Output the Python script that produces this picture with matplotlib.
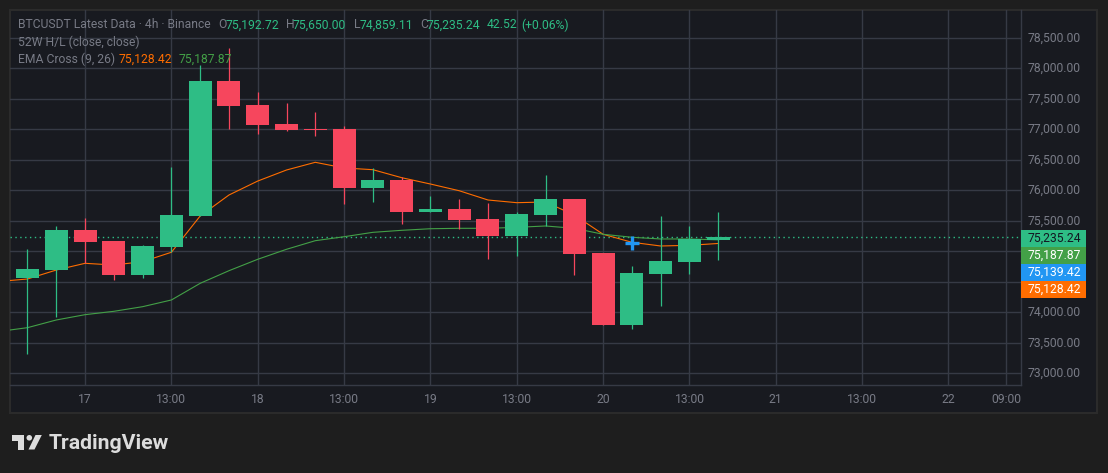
import matplotlib.pyplot as plt
from matplotlib.patches import Rectangle, Polygon, Circle
from matplotlib.transforms import ScaledTranslation

plt.rcParams['font.family'] = ['Roboto', 'DejaVu Sans']

# candles, 4h bars
opens = [74567, 74698, 75349, 75169, 74616, 75075, 75580, 77792, 77398, 77087, 77000, 77005, 76038,
         76169, 75644, 75693, 75530, 75251, 75595, 75857, 74972, 73792, 74628, 74825, 75192.72]
highs = [75038, 75415, 75546, 75169, 75103, 76382, 78054, 78328, 77611, 77431, 77284, 77054, 76366,
         76218, 75907, 75857, 75792, 75644, 76251, 75857, 74972, 74759, 75579, 75415, 75650.00]
lows = [73321, 73928, 74808, 74534, 74567, 74989, 75580, 77005, 76928, 76972, 76890, 75775, 75808,
        75448, 75644, 75366, 74874, 74923, 75415, 74611, 73792, 73731, 74103, 74628, 74859.11]
closes = [74710, 75349, 75158, 74616, 75087, 75595, 77792, 77382, 77070, 76989, 76985, 76038, 76169,
          75644, 75693, 75513, 75251, 75611, 75857, 74961, 73792, 74644, 74841, 75197, 75235.24]

# EMA lines start one bar before the first candle
ema_x = list(range(-1, 25))
ema9 = [74505, 74546, 74693, 74803, 74775, 74830, 74984, 75579, 75923, 76152, 76333, 76459, 76366,
        76338, 76207, 76103, 75993, 75841, 75797, 75808, 75595, 75279, 75148, 75087, 75098, 75128.42]
ema26 = [73685, 73748, 73874, 73961, 74016, 74092, 74202, 74475, 74682, 74869, 75033, 75174, 75239,
         75311, 75344, 75370, 75377, 75377, 75393, 75415, 75377, 75279, 75230, 75202, 75202, 75187.87]

last_price = 75235.24
cross_x = 21
cross_price = 75139.42

price_ticks = [73000, 73500, 74000, 74500, 75000, 75500, 76000, 76500, 77000, 77500, 78000, 78500]
# 74,500 and 75,000 are covered by the price tags, so no label there
hidden_prices = [74500, 75000]
time_ticks = [2, 5, 8, 11, 14, 17, 20, 23, 26, 29, 32, 34]
time_labels = ['17', '13:00', '18', '13:00', '19', '13:00', '20', '13:00', '21', '13:00', '22', '09:00']

tags = ['75,235.24', '75,187.87', '75,139.42', '75,128.42']
tag_colors = ['#2ebd85', '#43a047', '#2196f3', '#ff6d00']
tag_text_colors = ['#131722', 'white', 'white', 'white']

UP = '#2ebd85'
DOWN = '#f6465d'
GRID = '#363a45'
GRAY = '#787b86'
W, H = 1108, 473

fig = plt.figure(figsize=(W / 100, H / 100), dpi=100, facecolor='#1e1e1e')

# background layer, pixel coordinates
bg = fig.add_axes([0, 0, 1, 1], zorder=0)
bg.set_xlim(0, W)
bg.set_ylim(H, 0)
bg.axis('off')
bg.add_patch(Rectangle((9.5, 10), 1087.5, 402.5, facecolor='#181a20', edgecolor='#2b2b2b', linewidth=1.5))

# price chart
ax = fig.add_axes([10 / W, 1 - 385 / H, 1011 / W, 375 / H], zorder=1)
ax.patch.set_alpha(0)
ax.set_xlim(-0.608, 34.52)
ax.set_ylim(72808, 78956)

ax.grid(True, color=GRID, linewidth=1)
ax.set_axisbelow(True)
ax.set_yticks(price_ticks)
ax.set_yticklabels(['' if p in hidden_prices else f'{p:,.2f}' for p in price_ticks])
ax.yaxis.tick_right()
ax.set_xticks(time_ticks)
ax.set_xticklabels(time_labels)
ax.tick_params(axis='both', length=0, labelsize=8.7, labelcolor=GRAY)
ax.tick_params(axis='x', pad=6)
ax.tick_params(axis='y', pad=4.5)
# price labels sit a little above their grid line
for label in ax.get_yticklabels():
    label.set_transform(label.get_transform() + ScaledTranslation(0, 1.5 / 100, fig.dpi_scale_trans))
for side in ['left', 'top']:
    ax.spines[side].set_visible(False)
for side in ['right', 'bottom']:
    ax.spines[side].set_color(GRID)
    ax.spines[side].set_linewidth(1)

ax.axhline(last_price, color=UP, linestyle=(0, (1, 2.5)), linewidth=1, zorder=1.5)
ax.plot(ema_x, ema9, color='#ff6d00', linewidth=0.8, zorder=2)
ax.plot(ema_x, ema26, color='#43a047', linewidth=0.8, zorder=2)

for i in range(len(opens)):
    color = UP if closes[i] >= opens[i] else DOWN
    ax.vlines(i, lows[i], highs[i], color=color, linewidth=0.9, zorder=3)
    ax.bar(i, abs(closes[i] - opens[i]), bottom=min(opens[i], closes[i]), width=0.8, color=color, zorder=4)

ax.plot([cross_x], [cross_price], marker='+', markersize=9.5, markeredgewidth=2.4, color='#2196f3', zorder=5)

# overlay for legend text, price tags and logo
ov = fig.add_axes([0, 0, 1, 1], zorder=2)
ov.set_xlim(0, W)
ov.set_ylim(H, 0)
ov.axis('off')

FS = 8.7
legend_line1 = [(18, 'BTCUSDT Latest Data · 4h · Binance', GRAY), (218, 'O', GRAY), (226, '75,192.72', UP),
                (286, 'H', GRAY), (293, '75,650.00', UP), (354, 'L', GRAY), (360, '74,859.11', UP),
                (420, 'C', GRAY), (427, '75,235.24', UP), (487, '42.52', UP), (521, '(+0.06%)', UP)]
for x, s, c in legend_line1:
    ov.text(x, 25, s, color=c, fontsize=FS, va='center')
ov.text(18, 42, '52W H/L (close, close)', color=GRAY, fontsize=FS, va='center')
ov.text(18, 59, 'EMA Cross (9, 26)', color=GRAY, fontsize=FS, va='center')
ov.text(118.5, 59, '75,128.42', color='#ff6d00', fontsize=FS, va='center')
ov.text(178.5, 59, '75,187.87', color='#43a047', fontsize=FS, va='center')

for k in range(len(tags)):
    top = 229.5 + k * 17
    ov.add_patch(Rectangle((1021, top), 65, 17, facecolor=tag_colors[k], edgecolor='none'))
    ov.text(1028, top + 8.5, tags[k], color=tag_text_colors[k], fontsize=FS, va='center')

# logo
LOGO = '#dcdcdc'
ov.add_patch(Polygon([(12, 435), (24, 435), (24, 449.5), (18.3, 449.5), (18.3, 440.7), (12, 440.7)],
                     facecolor=LOGO, edgecolor='none'))
ov.add_patch(Circle((29.3, 437.8), 2.8, facecolor=LOGO, edgecolor='none'))
ov.add_patch(Polygon([(35.5, 435), (41.8, 435), (34.5, 449.5), (28.5, 449.5)], facecolor=LOGO, edgecolor='none'))
ov.text(48.5, 443, 'TradingView', color=LOGO, fontsize=15.3, fontweight='bold', va='center')

fig.savefig('out.png', dpi=100, facecolor=fig.get_facecolor())
